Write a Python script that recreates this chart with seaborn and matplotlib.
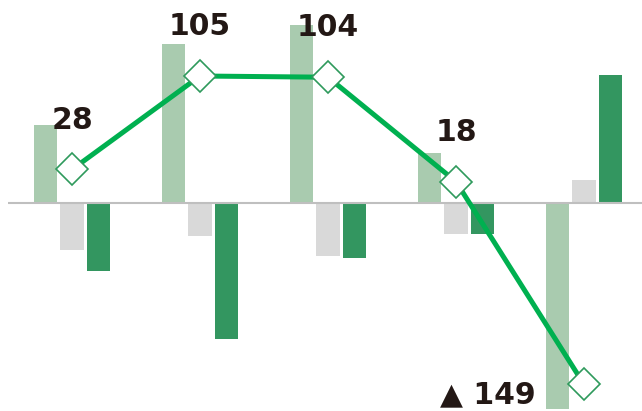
import matplotlib
matplotlib.use("Agg")
import matplotlib.pyplot as plt
import seaborn as sns
import pandas as pd

# ---- data ----
categories = ["P1", "P2", "P3", "P4", "P5"]
series_names = ["A", "B", "C"]
series_a = [65, 131, 147, 42, -169]     # light green
series_b = [-38, -27, -43, -25, 19]     # light gray
series_c = [-56, -112, -45, -25, 106]   # dark green
line_vals = [28, 105, 104, 18, -149]

palette = {"A": "#A9CBAF", "B": "#D9D9D9", "C": "#339660"}
line_color = "#00B050"
marker_edge = "#2E9A5C"
text_color = "#231815"

rows = []
for name, vals in zip(series_names, [series_a, series_b, series_c]):
    for c, v in zip(categories, vals):
        rows.append({"cat": c, "series": name, "value": v})
df = pd.DataFrame(rows)

sns.set_theme(style="white")
plt.rcParams["font.family"] = ["DejaVu Sans"]

fig = plt.figure(figsize=(6.42, 4.11), dpi=100)
ax = fig.add_axes([8 / 642, 0, 640 / 642, 1])

sns.barplot(data=df, x="cat", y="value", hue="series", order=categories,
            hue_order=series_names, palette=palette, width=0.61, gap=0.115,
            linewidth=0, ax=ax, legend=False, saturation=1)

ax.axhline(0, color="#BFBFBF", linewidth=1.5, zorder=1.5)

sns.pointplot(x=categories, y=line_vals, order=categories, color=line_color,
              markers="D", linestyles="-", markersize=16, linewidth=3.6,
              markerfacecolor="white", markeredgecolor=marker_edge,
              markeredgewidth=1.2, ax=ax, zorder=3)

for i, v in enumerate(line_vals):
    if v >= 0:
        ax.annotate(f"{v}", xy=(i, v), xytext=(0, 29.5), textcoords="offset points",
                    ha="center", va="baseline", fontsize=21.5, fontweight="bold",
                    color=text_color)
    else:
        ax.annotate(f"▲ {abs(v)}", xy=(i, v), xytext=(-34.5, -13.7),
                    textcoords="offset points", ha="right", va="baseline",
                    fontsize=21.5, fontweight="bold", color=text_color)

ax.set_xlim(-0.5, 4.5)
ax.set_ylim(-170.9, 167.6)
ax.set_xticks([])
ax.set_yticks([])
ax.set_xlabel("")
ax.set_ylabel("")
for s in ax.spines.values():
    s.set_visible(False)

fig.savefig("out.png", dpi=100)
